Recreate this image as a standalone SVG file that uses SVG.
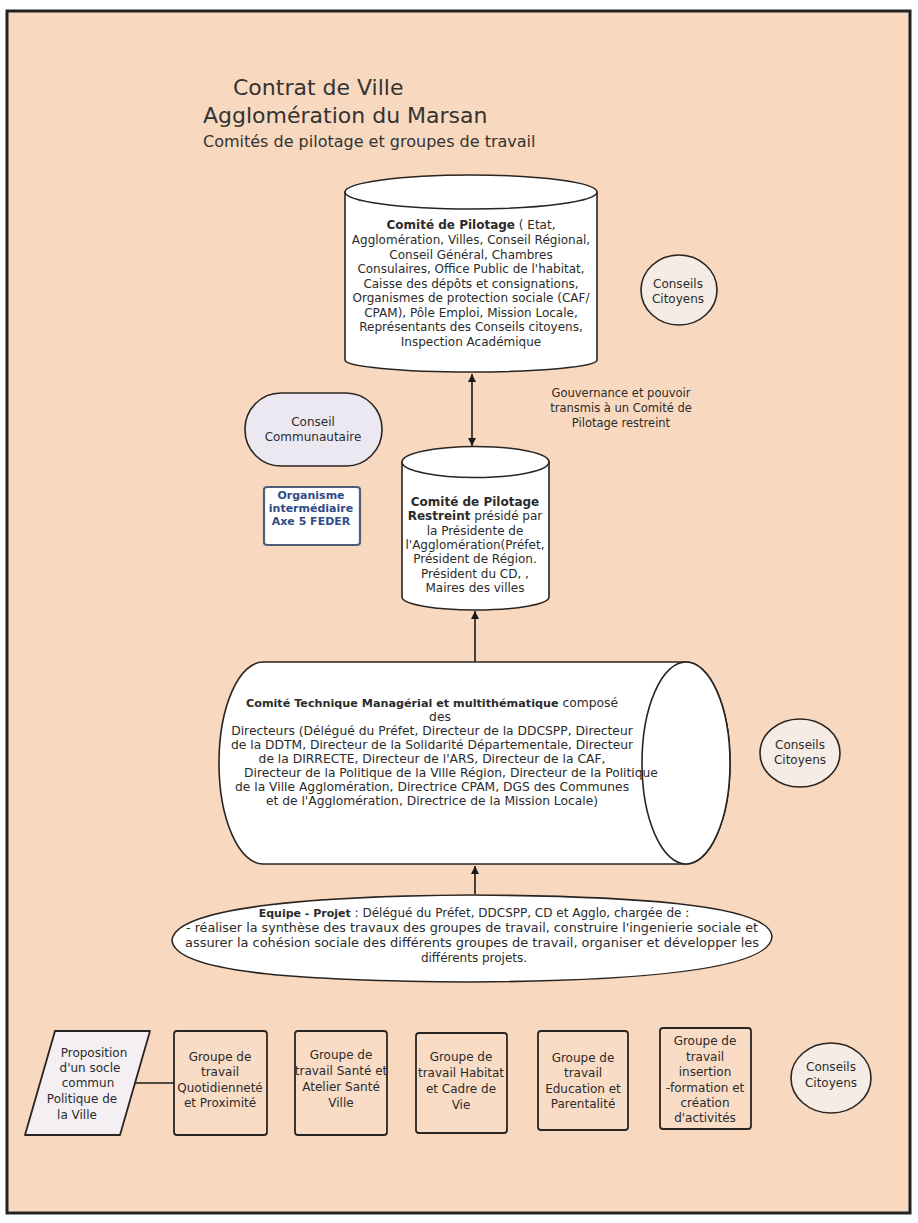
<svg xmlns="http://www.w3.org/2000/svg" width="918" height="1223" viewBox="0 0 918 1223">
<defs>
<style>
.t{font-family:"DejaVu Sans","Liberation Sans",sans-serif;fill:#2b2b2b;text-anchor:middle}
.l{text-anchor:start}
.s{fill:#ffffff;stroke:#2a2420;stroke-width:1.6}
.cc{fill:#f6ece6;stroke:#2a2420;stroke-width:1.6}
.gb{fill:#f9dcc6;stroke:#2a2420;stroke-width:1.8}
.ln{stroke:#1a1a1a;stroke-width:1.6;fill:none}
.b{font-weight:bold}
</style>
<marker id="ah" viewBox="0 0 10 10" refX="10" refY="5" markerWidth="8" markerHeight="10" orient="auto-start-reverse" markerUnits="userSpaceOnUse">
<path d="M0,0 L10,5 L0,10 z" fill="#1a1a1a"/>
</marker>
</defs>
<rect x="0" y="0" width="918" height="1223" fill="#ffffff"/>
<rect x="7" y="11" width="903" height="1202" fill="#f8d9c0" stroke="#222" stroke-width="3"/>

<g id="title">
<text class="t l" style="font-size:22px;fill:#333" x="233" y="95">Contrat de Ville</text>
<text class="t l" style="font-size:22px;fill:#333" x="203" y="123">Agglomération du Marsan</text>
<text class="t l" style="font-size:16px;fill:#333" x="203" y="147">Comités de pilotage et groupes de travail</text>
</g>

<g id="connectors">
<line class="ln" x1="472" y1="374" x2="472" y2="446" marker-start="url(#ah)" marker-end="url(#ah)"/>
<line class="ln" x1="475" y1="662" x2="475" y2="611" marker-end="url(#ah)"/>
<line class="ln" x1="475" y1="894" x2="475" y2="866" marker-end="url(#ah)"/>
<line class="ln" x1="133" y1="1083" x2="174" y2="1083"/>
</g>

<g id="comite-pilotage">
<path class="s" d="M345,192 L345,360 A126,12 0 0 0 597,360 L597,192 Z"/>
<ellipse class="s" cx="471" cy="192" rx="126" ry="17"/>
<text class="t" style="font-size:12px" x="471" y="229"><tspan class="b">Comité de Pilotage</tspan> ( Etat,</text>
<text class="t" style="font-size:12px" x="471" y="244">Agglomération, Villes, Conseil Régional,</text>
<text class="t" style="font-size:12px" x="471" y="259">Conseil Général, Chambres</text>
<text class="t" style="font-size:12px" x="471" y="273">Consulaires, Office Public de l'habitat,</text>
<text class="t" style="font-size:12px" x="471" y="288">Caisse des dépôts et consignations,</text>
<text class="t" style="font-size:12px" x="471" y="302">Organismes de protection sociale (CAF/</text>
<text class="t" style="font-size:12px" x="471" y="317">CPAM), Pôle Emploi, Mission Locale,</text>
<text class="t" style="font-size:12px" x="471" y="331">Représentants des Conseils citoyens,</text>
<text class="t" style="font-size:12px" x="471" y="346">Inspection Académique</text>
</g>

<g id="conseils-citoyens-1">
<ellipse class="cc" cx="679" cy="290" rx="38" ry="35"/>
<text class="t" style="font-size:12px" x="678" y="288">Conseils</text>
<text class="t" style="font-size:12px" x="678" y="303">Citoyens</text>
</g>

<g id="gouvernance-label">
<text class="t" style="font-size:11.5px" x="621" y="397">Gouvernance et pouvoir</text>
<text class="t" style="font-size:11.5px" x="621" y="412">transmis à un Comité de</text>
<text class="t" style="font-size:11.5px" x="621" y="427">Pilotage restreint</text>
</g>

<g id="conseil-communautaire">
<rect x="245" y="393" width="137" height="73" rx="36" ry="36" fill="#ece8f2" stroke="#2a2420" stroke-width="1.6"/>
<text class="t" style="font-size:12px" x="313" y="426">Conseil</text>
<text class="t" style="font-size:12px" x="313" y="441">Communautaire</text>
</g>

<g id="organisme-intermediaire">
<rect x="264" y="487" width="96" height="58" rx="3" fill="#ffffff" stroke="#4d5e78" stroke-width="2.2"/>
<text class="t b" style="font-size:11px;fill:#2f4b86" x="311" y="499">Organisme</text>
<text class="t b" style="font-size:11px;fill:#2f4b86" x="311" y="512">intermédiaire</text>
<text class="t b" style="font-size:11px;fill:#2f4b86" x="311" y="525">Axe 5 FEDER</text>
</g>

<g id="comite-pilotage-restreint">
<path class="s" d="M402,462 L402,597 A73.5,13 0 0 0 549,597 L549,462 Z"/>
<ellipse class="s" cx="475.5" cy="462" rx="73.5" ry="15.5"/>
<text class="t b" style="font-size:12px" x="475" y="506">Comité de Pilotage</text>
<text class="t" style="font-size:12px" x="475" y="520"><tspan class="b">Restreint</tspan> présidé par</text>
<text class="t" style="font-size:12px" x="475" y="535">la Présidente de</text>
<text class="t" style="font-size:12px" x="475" y="549">l'Agglomération(Préfet,</text>
<text class="t" style="font-size:12px" x="475" y="563">Président de Région.</text>
<text class="t" style="font-size:12px" x="475" y="578">Président du CD, ,</text>
<text class="t" style="font-size:12px" x="475" y="592">Maires des villes</text>
</g>

<g id="comite-technique">
<path class="s" d="M263,662 L686,662 A44,101 0 0 1 686,864 L263,864 A44,101 0 0 1 263,662 Z"/>
<ellipse class="s" cx="686" cy="763" rx="44" ry="101"/>
<text class="t" style="font-size:12.3px" x="432" y="707"><tspan class="b" style="font-size:11.2px">Comité Technique Managérial et multithématique</tspan> composé</text>
<text class="t" style="font-size:12.3px" x="440" y="721">des</text>
<text class="t" style="font-size:12.3px" x="432" y="735">Directeurs (Délégué du Préfet, Directeur de la DDCSPP, Directeur</text>
<text class="t" style="font-size:12.3px" x="432" y="749">de la DDTM, Directeur de la Solidarité Départementale, Directeur</text>
<text class="t" style="font-size:12.3px" x="432" y="763">de la DIRRECTE, Directeur de l'ARS, Directeur de la CAF,</text>
<text class="t" style="font-size:12.3px" x="451" y="777">Directeur de la Politique de la Ville Région, Directeur de la Politique</text>
<text class="t" style="font-size:12.3px" x="432" y="791">de la Ville Agglomération, Directrice CPAM, DGS des Communes</text>
<text class="t" style="font-size:12.3px" x="432" y="805">et de l'Agglomération, Directrice de la Mission Locale)</text>
</g>

<g id="conseils-citoyens-2">
<ellipse class="cc" cx="800" cy="753" rx="40" ry="34"/>
<text class="t" style="font-size:12px" x="800" y="749">Conseils</text>
<text class="t" style="font-size:12px" x="800" y="764">Citoyens</text>
</g>

<g id="equipe-projet">
<path class="s" d="M172,940 C176,905 330,896 472,895 C620,896 768,903 772,936 C772,972 620,981 472,982 C320,981 174,975 172,940 Z"/>
<text class="t" style="font-size:12px" x="474" y="917"><tspan class="b" style="font-size:11px">Equipe - Projet</tspan> : Délégué du Préfet, DDCSPP, CD et Agglo, chargée de :</text>
<text class="t" style="font-size:12px" x="472" y="932" textLength="572" lengthAdjust="spacingAndGlyphs">- réaliser la synthèse des travaux des groupes de travail, construire l'ingenierie sociale et</text>
<text class="t" style="font-size:12px" x="472" y="947" textLength="574" lengthAdjust="spacingAndGlyphs">assurer la cohésion sociale des différents groupes de travail,  organiser et développer les</text>
<text class="t" style="font-size:12px" x="474" y="962">différents projets.</text>
</g>

<g id="proposition">
<path d="M55,1031 L150,1031 L120,1135 L25,1135 Z" fill="#f3eff3" stroke="#2a2420" stroke-width="1.8" stroke-linejoin="round"/>
<text class="t" style="font-size:12px" x="94" y="1057">Proposition</text>
<text class="t" style="font-size:12px" x="90" y="1072">d'un socle</text>
<text class="t" style="font-size:12px" x="88" y="1087">commun</text>
<text class="t" style="font-size:12px" x="82" y="1103">Politique de</text>
<text class="t" style="font-size:12px" x="77" y="1119">la Ville</text>
</g>

<g id="groupe-quotidiennete">
<rect class="gb" x="174" y="1031" width="93" height="104" rx="3"/>
<text class="t" style="font-size:12px" x="220" y="1061">Groupe de</text>
<text class="t" style="font-size:12px" x="220" y="1076">travail</text>
<text class="t" style="font-size:12px" x="220" y="1092">Quotidienneté</text>
<text class="t" style="font-size:12px" x="220" y="1107">et Proximité</text>
</g>

<g id="groupe-sante">
<rect class="gb" x="295" y="1031" width="92" height="104" rx="3"/>
<text class="t" style="font-size:12px" x="341" y="1059">Groupe de</text>
<text class="t" style="font-size:12px" x="341" y="1075">travail Santé et</text>
<text class="t" style="font-size:12px" x="341" y="1091">Atelier Santé</text>
<text class="t" style="font-size:12px" x="341" y="1107">Ville</text>
</g>

<g id="groupe-habitat">
<rect class="gb" x="416" y="1033" width="91" height="100" rx="3"/>
<text class="t" style="font-size:12px" x="461" y="1061">Groupe de</text>
<text class="t" style="font-size:12px" x="461" y="1077">travail Habitat</text>
<text class="t" style="font-size:12px" x="461" y="1093">et Cadre de</text>
<text class="t" style="font-size:12px" x="461" y="1109">Vie</text>
</g>

<g id="groupe-education">
<rect class="gb" x="538" y="1031" width="90" height="99" rx="3"/>
<text class="t" style="font-size:12px" x="583" y="1062">Groupe de</text>
<text class="t" style="font-size:12px" x="583" y="1077">travail</text>
<text class="t" style="font-size:12px" x="583" y="1093">Education et</text>
<text class="t" style="font-size:12px" x="583" y="1108">Parentalité</text>
</g>

<g id="groupe-insertion">
<rect class="gb" x="660" y="1028" width="91" height="101" rx="3"/>
<text class="t" style="font-size:12px" x="705" y="1045">Groupe de</text>
<text class="t" style="font-size:12px" x="705" y="1061">travail</text>
<text class="t" style="font-size:12px" x="705" y="1076">insertion</text>
<text class="t" style="font-size:12px" x="705" y="1092">-formation et</text>
<text class="t" style="font-size:12px" x="705" y="1107">création</text>
<text class="t" style="font-size:12px" x="705" y="1122">d'activités</text>
</g>

<g id="conseils-citoyens-3">
<ellipse class="cc" cx="831" cy="1078" rx="40" ry="35"/>
<text class="t" style="font-size:12px" x="831" y="1071">Conseils</text>
<text class="t" style="font-size:12px" x="831" y="1087">Citoyens</text>
</g>
</svg>
